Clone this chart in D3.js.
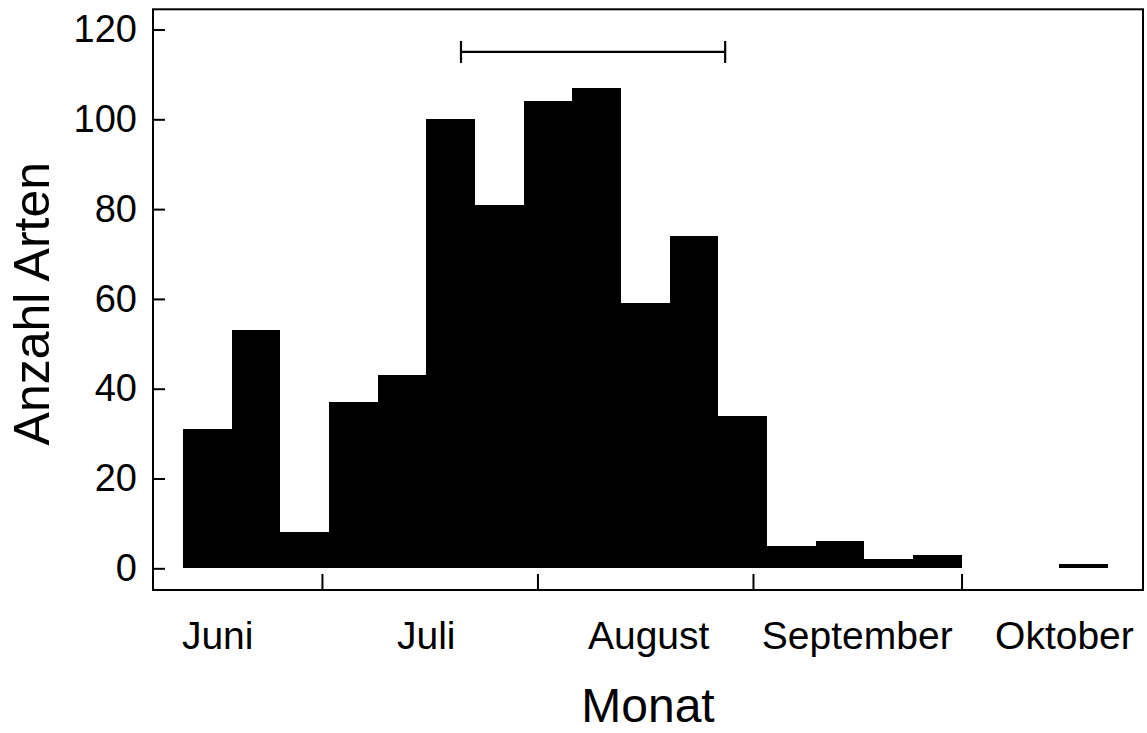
<!DOCTYPE html>
<html>
<head>
<meta charset="utf-8">
<script src="https://cdn.jsdelivr.net/npm/d3@7"></script>
<style>
  body { margin: 0; background: #fff; }
  text { font-family: "Liberation Sans", Arial, sans-serif; fill: #000; }
</style>
</head>
<body>
<div id="chart"></div>
<script>
// Tage gezaehlt ab 1. Juni (Tag 0)
const binStart = [10, 17, 24, 31, 38, 45, 52, 59, 66, 73, 80, 87, 94, 101, 108, 115, 122, 129, 136];
const binDays = 7;
const counts = [31, 53, 8, 37, 43, 100, 81, 104, 107, 59, 74, 34, 5, 6, 2, 3, 0, 0, 1];

const monthStart = [30, 61, 92, 122];           // 1. Juli, 1. Aug, 1. Sep, 1. Okt
const monthNames = ['Juni', 'Juli', 'August', 'September', 'Oktober'];
const monthLabelDay = [15, 45, 77, 107, 136.8];

const yTicks = [0, 20, 40, 60, 80, 100, 120];
const rangeBar = {from: 50, to: 88, value: 115};

let dim = {width: 1147, height: 733};
let plot = {left: 153, right: 1143, top: 9.3, bottom: 590};

let svg = d3.select('#chart').append('svg')
    .attr('width', dim.width)
    .attr('height', dim.height);

let x = d3.scaleLinear().domain([5.7, 148.1]).range([plot.left, plot.right]);
let y = d3.scaleLinear().domain([-4.83, 124.5]).range([plot.bottom, plot.top]);

// bars (rounded edges so neighbouring bars meet without seams)
svg.append('g')
    .attr('shape-rendering', 'crispEdges')
    .selectAll('rect')
    .data(counts)
    .join('rect')
    .attr('x', (d, i) => Math.round(x(binStart[i])))
    .attr('width', (d, i) => Math.round(x(binStart[i] + binDays)) - Math.round(x(binStart[i])))
    .attr('y', d => Math.round(y(d)))
    .attr('height', d => Math.round(y(0)) - Math.round(y(d)))
    .attr('fill', '#000');

// range bar on top
let rb = svg.append('g').attr('stroke', '#000').attr('stroke-width', 2.2);
rb.append('line')
    .attr('x1', x(rangeBar.from)).attr('x2', x(rangeBar.to))
    .attr('y1', y(rangeBar.value)).attr('y2', y(rangeBar.value));
[rangeBar.from, rangeBar.to].forEach(function(d){
    rb.append('line')
        .attr('x1', x(d)).attr('x2', x(d))
        .attr('y1', y(rangeBar.value) - 11).attr('y2', y(rangeBar.value) + 11);
});

// y axis, ticks pointing inward
let yAxis = svg.append('g')
    .attr('transform', 'translate(' + plot.left + ',0)')
    .call(d3.axisLeft(y).tickValues(yTicks).tickSize(-12).tickPadding(16));
yAxis.select('.domain').remove();
yAxis.selectAll('line').attr('stroke-width', 2);
yAxis.selectAll('text')
    .attr('font-size', 38)
    .attr('font-family', '"Liberation Sans", Arial, sans-serif');

// x axis: month boundaries
let xAxis = svg.append('g')
    .attr('transform', 'translate(0,' + plot.bottom + ')')
    .call(d3.axisBottom(x).tickValues(monthStart).tickSize(-16).tickFormat(''));
xAxis.select('.domain').remove();
xAxis.selectAll('line').attr('stroke-width', 2);

// frame
svg.append('rect')
    .attr('x', plot.left).attr('y', plot.top)
    .attr('width', plot.right - plot.left)
    .attr('height', plot.bottom - plot.top)
    .attr('fill', 'none')
    .attr('stroke', '#000')
    .attr('stroke-width', 2);

// month names
svg.append('g')
    .selectAll('text')
    .data(monthNames)
    .join('text')
    .attr('x', (d, i) => x(monthLabelDay[i]))
    .attr('y', 649)
    .attr('text-anchor', 'middle')
    .attr('font-size', 39)
    .text(d => d);

// axis titles
svg.append('text')
    .attr('x', (plot.left + plot.right) / 2)
    .attr('y', 722)
    .attr('text-anchor', 'middle')
    .attr('font-size', 48)
    .text('Monat');

svg.append('text')
    .attr('transform', 'translate(49,' + ((plot.top + plot.bottom) / 2 + 4) + ') rotate(-90)')
    .attr('text-anchor', 'middle')
    .attr('font-size', 50)
    .text('Anzahl Arten');
</script>
</body>
</html>
